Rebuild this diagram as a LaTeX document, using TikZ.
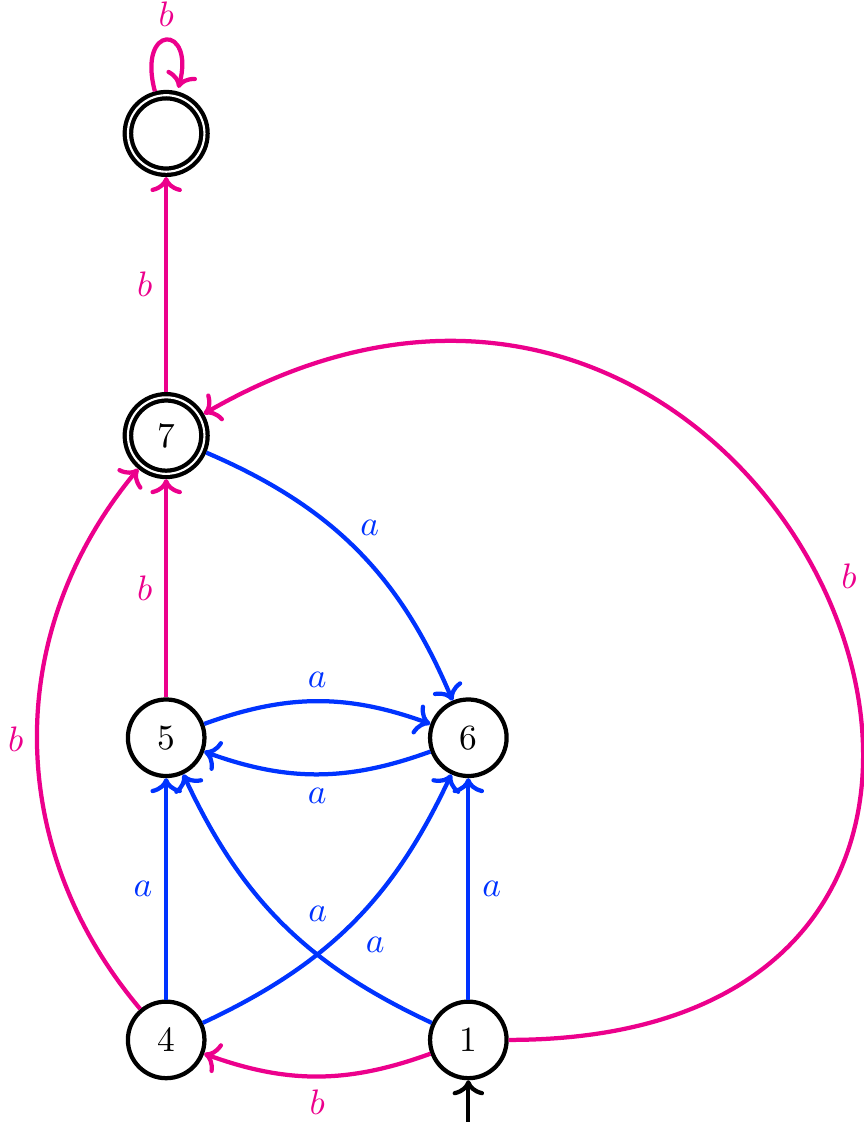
\documentclass[tikz,border=0pt]{standalone}
\usepackage{xcolor}
\usepackage{tikz}
\usetikzlibrary{positioning, arrows.meta}

\definecolor{edgeblue}{RGB}{0,51,255}
\definecolor{edgepink}{RGB}{236,0,140}

\begin{document}
\begin{tikzpicture}[
    node distance=3cm, on grid,
    vertex/.style={circle, draw, very thick, minimum size=0.76cm, inner sep=0pt},
    accept/.style={vertex, double, double distance=0.6pt, outer sep=1.5pt},
    arr/.style={-{To}, very thick},
    arrA/.style={arr, edgeblue},
    arrB/.style={arr, edgepink},
    lbl/.style={font=\normalsize},
]
\useasboundingbox (-1.65,-0.815) rectangle (6.92,10.325);

% Row 1: bottom states
\node[vertex] (four) {4};
\node[vertex, right=of four] (one) {1};
\coordinate[below=0.82cm of one] (init);

% Row 2
\node[vertex, above=of four] (five) {5};
\node[vertex, above=of one] (six) {6};

% Rows 3-4: accepting states
\node[accept, above=of five] (seven) {7};
\node[accept, above=of seven] (sink) {};

% Edges on a
\draw[arrA] (four) -- node[lbl, left] {$a$} (five);
\draw[arrA] (one) -- node[lbl, right] {$a$} (six);
\draw[arrA] (five) to[bend left=20] node[lbl, above] {$a$} (six);
\draw[arrA] (six) to[bend left=20] node[lbl, below] {$a$} (five);
\draw[arrA] (four) to[bend right=20] node[lbl, below right] {$a$} (six);
\draw[arrA] (one) to[bend left=20] node[lbl, pos=0.45, above right] {$a$} (five);
\draw[arrA] (seven) to[bend left=22] node[lbl, above right, xshift=-1mm] {$a$} (six);

% Edges on b
\draw[arrB] (one) to[bend left=20] node[lbl, below] {$b$} (four);
\draw[arrB] (four) to[bend left=40] node[lbl, left] {$b$} (seven);
\draw[arrB] (five) -- node[lbl, left] {$b$} (seven);
\draw[arrB] (seven) -- node[lbl, left] {$b$} (sink);
\path (sink) edge[arrB, loop above] node[lbl] {$b$} ();
\draw[arrB] (one.east) .. controls +(6.7,0) and +(30:6.7) .. (seven.30)
    node[lbl, pos=0.52, right, xshift=1mm] {$b$};

% Start arrow
\draw[arr] (init) -- (one);

\end{tikzpicture}
\end{document}
